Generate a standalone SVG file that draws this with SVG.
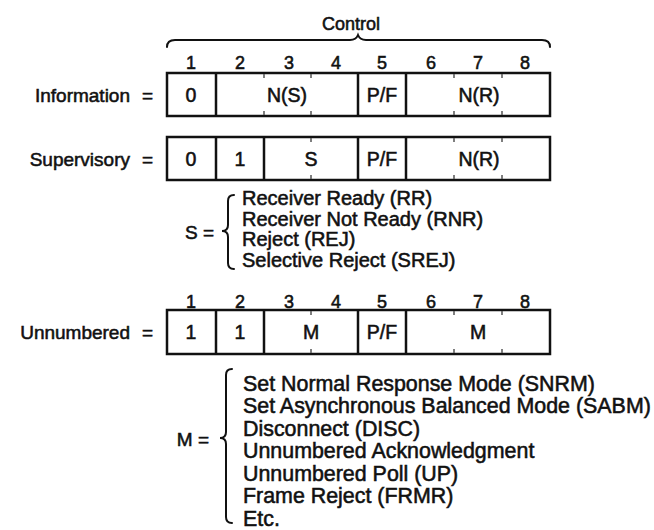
<svg xmlns="http://www.w3.org/2000/svg" width="654" height="530" viewBox="0 0 654 530">
  <style>
    text { font-family: "Liberation Sans", Arial, Helvetica, sans-serif; fill: #111; stroke: #111; stroke-width: 0.55; }
    .lbl { font-size: 19px; }
    .num { font-size: 18px; text-anchor: middle; }
    .cell { font-size: 19.5px; text-anchor: middle; }
    .ctl { font-size: 18px; text-anchor: middle; }
    .slist { font-size: 20px; }
    .mlist { font-size: 21.4px; }
    .box { fill: none; stroke: #111; stroke-width: 2.5; }
    .div { stroke: #111; stroke-width: 2.5; }
    .tick { stroke: #555; stroke-width: 1.5; }
    .brace { fill: none; stroke: #111; stroke-width: 2; stroke-linecap: round; }
  </style>
  <rect width="654" height="530" fill="#ffffff"/>

  <g id="control">
    <text class="ctl" x="351" y="30">Control</text>
    <path class="brace" d="M167,47 Q167,40 175,40 L350,40 Q356,40 358,35 Q360,40 366,40 L542,40 Q550,40 550,47"/>
  </g>

  <g id="bits-top">
    <text class="num" x="191" y="68.5">1</text>
    <text class="num" x="240" y="68.5">2</text>
    <text class="num" x="289" y="68.5">3</text>
    <text class="num" x="336" y="68.5">4</text>
    <text class="num" x="382" y="68.5">5</text>
    <text class="num" x="431" y="68.5">6</text>
    <text class="num" x="478" y="68.5">7</text>
    <text class="num" x="525" y="68.5">8</text>
  </g>

  <g id="information">
    <text class="lbl" x="130" y="102" text-anchor="end">Information</text>
    <text class="lbl" x="142" y="102">=</text>
    <rect class="box" x="167" y="73" width="383" height="43"/>
    <line class="div" x1="216" y1="73" x2="216" y2="116"/>
    <line class="div" x1="358" y1="73" x2="358" y2="116"/>
    <line class="div" x1="406" y1="73" x2="406" y2="116"/>
    <path class="tick" d="M264,74 v4 M311,74 v4 M264,115 v-4 M311,115 v-4 M454,74 v4 M502,74 v4 M454,115 v-4 M502,115 v-4"/>
    <text class="cell" x="191" y="102">0</text>
    <text class="cell" x="287" y="102">N(S)</text>
    <text class="cell" x="382" y="102">P/F</text>
    <text class="cell" x="479" y="102">N(R)</text>
  </g>

  <g id="supervisory">
    <text class="lbl" x="130" y="165.5" text-anchor="end">Supervisory</text>
    <text class="lbl" x="142" y="165.5">=</text>
    <rect class="box" x="167" y="137" width="383" height="43"/>
    <line class="div" x1="216" y1="137" x2="216" y2="180"/>
    <line class="div" x1="264" y1="137" x2="264" y2="180"/>
    <line class="div" x1="358" y1="137" x2="358" y2="180"/>
    <line class="div" x1="406" y1="137" x2="406" y2="180"/>
    <path class="tick" d="M311,138 v4 M311,179 v-4 M454,138 v4 M502,138 v4 M454,179 v-4 M502,179 v-4"/>
    <text class="cell" x="191" y="165.5">0</text>
    <text class="cell" x="240" y="165.5">1</text>
    <text class="cell" x="311" y="165.5">S</text>
    <text class="cell" x="382" y="165.5">P/F</text>
    <text class="cell" x="479" y="165.5">N(R)</text>
  </g>

  <g id="s-values">
    <text class="lbl" x="214" y="238.5" text-anchor="end">S =</text>
    <path class="brace" d="M234,195 Q228,195 228,201 L228,225 Q228,231 222,231 Q228,231 228,237 L228,263 Q228,269 234,269"/>
    <text class="slist" x="242" y="205">Receiver Ready (RR)</text>
    <text class="slist" x="242" y="225.7">Receiver Not Ready (RNR)</text>
    <text class="slist" x="242" y="246.3">Reject (REJ)</text>
    <text class="slist" x="242" y="267">Selective Reject (SREJ)</text>
  </g>

  <g id="bits-bottom">
    <text class="num" x="191" y="307.5">1</text>
    <text class="num" x="240" y="307.5">2</text>
    <text class="num" x="289" y="307.5">3</text>
    <text class="num" x="336" y="307.5">4</text>
    <text class="num" x="382" y="307.5">5</text>
    <text class="num" x="431" y="307.5">6</text>
    <text class="num" x="478" y="307.5">7</text>
    <text class="num" x="525" y="307.5">8</text>
  </g>

  <g id="unnumbered">
    <text class="lbl" x="130" y="339" text-anchor="end">Unnumbered</text>
    <text class="lbl" x="142" y="339">=</text>
    <rect class="box" x="167" y="310" width="383" height="44"/>
    <line class="div" x1="216" y1="310" x2="216" y2="354"/>
    <line class="div" x1="264" y1="310" x2="264" y2="354"/>
    <line class="div" x1="358" y1="310" x2="358" y2="354"/>
    <line class="div" x1="406" y1="310" x2="406" y2="354"/>
    <path class="tick" d="M311,311 v4 M311,353 v-4 M454,311 v4 M502,311 v4 M454,353 v-4 M502,353 v-4"/>
    <text class="cell" x="191" y="339">1</text>
    <text class="cell" x="240" y="339">1</text>
    <text class="cell" x="311" y="339">M</text>
    <text class="cell" x="382" y="339">P/F</text>
    <text class="cell" x="478" y="339">M</text>
  </g>

  <g id="m-values">
    <text class="lbl" x="209" y="445.5" text-anchor="end">M =</text>
    <path class="brace" d="M232,369 Q226,369 226,375 L226,432 Q226,438 220,438 Q226,438 226,444 L226,517 Q226,523 232,523"/>
    <text class="mlist" x="243" y="390.5">Set Normal Response Mode (SNRM)</text>
    <text class="mlist" x="243" y="413">Set Asynchronous Balanced Mode (SABM)</text>
    <text class="mlist" x="243" y="435.5">Disconnect (DISC)</text>
    <text class="mlist" x="243" y="458">Unnumbered Acknowledgment</text>
    <text class="mlist" x="243" y="480.5">Unnumbered Poll (UP)</text>
    <text class="mlist" x="243" y="503">Frame Reject (FRMR)</text>
    <text class="mlist" x="243" y="525.5">Etc.</text>
  </g>
</svg>
